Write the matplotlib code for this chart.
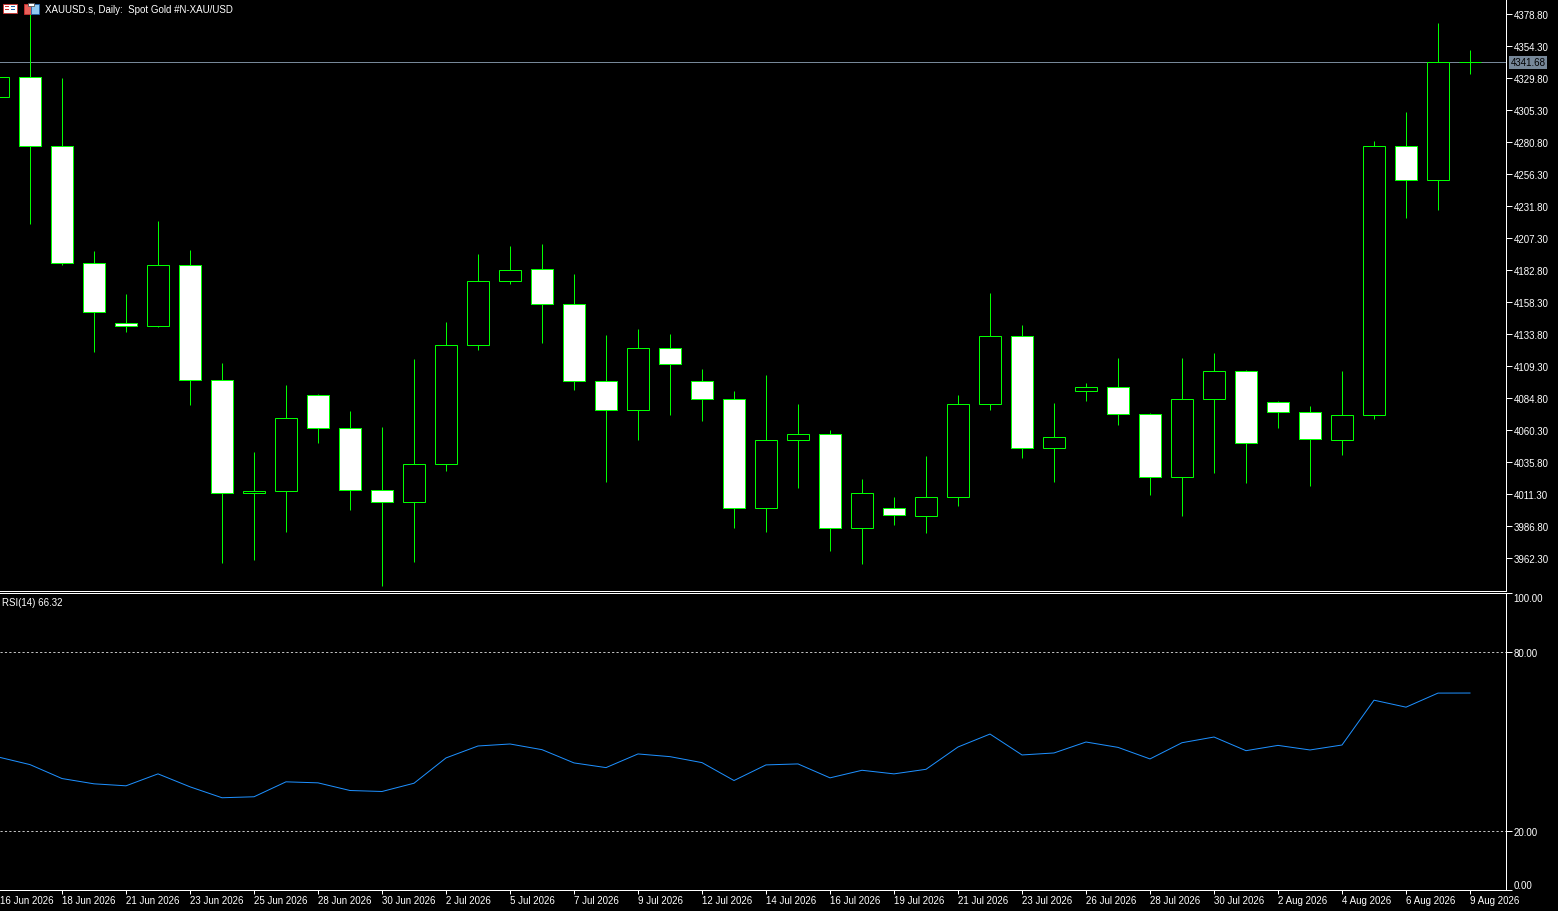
import matplotlib
matplotlib.use("Agg")
import pandas as pd
from matplotlib import pyplot as plt
from matplotlib import transforms
from matplotlib.patches import Rectangle

plt.rcParams["font.family"] = ["Liberation Sans", "DejaVu Sans"]

# XAUUSD daily bars (broker calendar, includes Sunday sessions)
dates = [
    "2026-06-16", "2026-06-17", "2026-06-18", "2026-06-19", "2026-06-21", "2026-06-22",
    "2026-06-23", "2026-06-24", "2026-06-25", "2026-06-26", "2026-06-28", "2026-06-29",
    "2026-06-30", "2026-07-01", "2026-07-02", "2026-07-03", "2026-07-05", "2026-07-06",
    "2026-07-07", "2026-07-08", "2026-07-09", "2026-07-10", "2026-07-12", "2026-07-13",
    "2026-07-14", "2026-07-15", "2026-07-16", "2026-07-17", "2026-07-19", "2026-07-20",
    "2026-07-21", "2026-07-22", "2026-07-23", "2026-07-24", "2026-07-26", "2026-07-27",
    "2026-07-28", "2026-07-29", "2026-07-30", "2026-07-31", "2026-08-02", "2026-08-03",
    "2026-08-04", "2026-08-05", "2026-08-06", "2026-08-07", "2026-08-09",
]
opens = [
    4314.87, 4330.18, 4277.58, 4187.93, 4142.60, 4139.70, 4186.25, 4098.35, 4011.91, 4013.37,
    4086.87, 4061.60, 4014.13, 4004.95, 4034.04, 4125.15, 4174.15, 4183.33, 4156.54, 4097.59,
    4075.38, 4122.85, 4097.59, 4083.80, 4000.35, 4052.41, 4057.01, 3985.04, 4000.35, 3994.23,
    4008.77, 4079.98, 4132.04, 4046.29, 4089.93, 4092.99, 4072.32, 4024.09, 4083.80, 4105.24,
    4081.51, 4073.85, 4052.41, 4071.55, 4277.51, 4251.48, 4341.68,
]
highs = [
    4335.16, 4381.10, 4329.57, 4197.50, 4164.58, 4220.32, 4198.11, 4111.67, 4043.46, 4094.91,
    4087.50, 4074.85, 4062.60, 4114.66, 4142.99, 4195.05, 4201.17, 4202.71, 4179.74, 4133.03,
    4137.63, 4133.80, 4107.00, 4090.16, 4102.41, 4080.21, 4060.30, 4022.78, 4009.00, 4040.39,
    4087.10, 4165.19, 4140.69, 4080.97, 4096.28, 4115.42, 4073.09, 4115.42, 4119.25, 4106.24,
    4082.50, 4078.67, 4105.47, 4281.57, 4303.54, 4371.91, 4351.24,
]
lows = [
    4310.66, 4218.33, 4186.25, 4120.02, 4135.64, 4138.85, 4079.59, 3958.17, 3961.07, 3981.90,
    4050.58, 3999.28, 3941.09, 3959.01, 4029.14, 4121.78, 4172.31, 4127.14, 4091.15, 4020.72,
    4052.87, 4072.01, 4067.42, 3985.50, 3982.44, 4016.12, 3967.89, 3957.94, 3987.80, 3981.67,
    4002.34, 4075.84, 4039.09, 4020.72, 4082.73, 4064.36, 4010.76, 3994.69, 4027.61, 4019.95,
    4062.06, 4017.65, 4041.39, 4068.95, 4222.38, 4228.97, 4332.86,
]
closes = [
    4330.18, 4277.58, 4187.93, 4150.41, 4139.70, 4186.25, 4098.35, 4011.91, 4013.37, 4069.49,
    4061.60, 4014.13, 4004.95, 4034.04, 4125.15, 4174.15, 4182.57, 4156.54, 4097.59, 4075.38,
    4122.85, 4110.60, 4083.80, 4000.35, 4052.41, 4057.01, 3985.04, 4011.84, 3994.99, 4008.77,
    4079.98, 4132.04, 4046.29, 4054.71, 4092.99, 4072.32, 4024.09, 4083.80, 4105.24, 4050.12,
    4073.85, 4053.18, 4071.55, 4277.51, 4251.48, 4341.68, 4341.68,
]
rsi = [
    44.80, 42.22, 37.53, 35.75, 35.08, 39.10, 34.74, 31.06, 31.39, 36.42,
    36.08, 33.50, 33.17, 35.95, 44.47, 48.49, 49.16, 47.25, 42.79, 41.21,
    45.81, 44.90, 42.89, 36.86, 42.12, 42.45, 37.76, 40.31, 39.10, 40.64,
    48.15, 52.51, 45.47, 46.14, 49.83, 48.02, 44.13, 49.59, 51.51, 46.91,
    48.69, 47.15, 48.82, 63.91, 61.56, 66.30, 66.32,
]
price_ticks = [
    3962.30, 3986.80, 4011.30, 4035.80, 4060.30, 4084.80, 4109.30, 4133.80, 4158.30,
    4182.80, 4207.30, 4231.80, 4256.30, 4280.80, 4305.30, 4329.80, 4354.30, 4378.80,
]
rsi_ticks = [0, 20, 80, 100]
bid = 4341.68

W, H = 1558, 912
GREEN = "#00ff00"
LW = 0.72


def px_box(x0, y0, x1, y1):
    return [x0 / W, 1 - y1 / H, (x1 - x0) / W, (y1 - y0) / H]


fig = plt.figure(figsize=(W / 100, H / 100), dpi=100, facecolor="black")
ax = fig.add_axes(px_box(0, 0, 1506, 592), facecolor="black")
ax_rsi = fig.add_axes(px_box(0, 594, 1506, 891), facecolor="black")

x = list(range(len(dates)))

# candles: wicks first, bodies on top (black body for up bars hides wick)
ax.vlines(x, lows, highs, color=GREEN, linewidth=LW, zorder=2)
bottoms = [min(o, c) for o, c in zip(opens, closes)]
heights = [max(abs(c - o), 0.05) for o, c in zip(opens, closes)]
faces = ["black" if c > o else "white" for o, c in zip(opens, closes)]
ax.bar(x, heights, bottom=bottoms, width=0.68, color=faces, edgecolor=GREEN,
       linewidth=LW, zorder=3)

ax.axhline(bid, color="#778899", linewidth=LW, zorder=1)
trans_bid = transforms.blended_transform_factory(ax.transAxes, ax.transData)
ax.annotate(f"{bid:.2f}", xy=(1.0, bid), xycoords=trans_bid, xytext=(3.2, 0),
            textcoords="offset points", ha="left", va="center", fontsize=7, color="black",
            bbox=dict(boxstyle="square,pad=0.12", fc="#778899", ec="none"),
            annotation_clip=False)

ax.set_xlim(2 / 32, 1508 / 32)
ax.set_ylim(3937.03, 4390.28)
ax.yaxis.tick_right()
ax.set_yticks(price_ticks)
ax.set_yticklabels([f"{p:.2f}" for p in price_ticks])
ax.set_xticks([])
for side in ["top", "left"]:
    ax.spines[side].set_visible(False)
for side in ["right", "bottom"]:
    ax.spines[side].set_color("white")
    ax.spines[side].set_linewidth(LW)
ax.tick_params(axis="y", colors="white", length=4, width=LW, pad=1.5, labelsize=7)

# RSI panel
ax_rsi.plot(x, rsi, color="#1e90ff", linewidth=LW)
for lvl in [80, 20]:
    ax_rsi.axhline(lvl, color="#c0c0c0", linewidth=LW, linestyle=(0, (2.2, 2.2)))
ax_rsi.set_xlim(2 / 32, 1508 / 32)
ax_rsi.set_ylim(0.3, 99.9)
ax_rsi.yaxis.tick_right()
ax_rsi.set_yticks(rsi_ticks)
ax_rsi.set_yticklabels([f"{v:.2f}" for v in rsi_ticks])
for lab, v in zip(ax_rsi.get_yticklabels(), rsi_ticks):
    if v == 100:
        lab.set_va("top")
    elif v == 0:
        lab.set_va("bottom")
ax_rsi.spines["left"].set_visible(False)
for side in ["top", "right", "bottom"]:
    ax_rsi.spines[side].set_color("white")
    ax_rsi.spines[side].set_linewidth(LW)
ax_rsi.tick_params(axis="y", colors="white", length=4, width=LW, pad=1.5, labelsize=7)

tick_idx = x[::2]
ax_rsi.set_xticks([i for i in tick_idx if i > 0])
ax_rsi.set_xticklabels([])
ax_rsi.tick_params(axis="x", colors="white", length=3, width=LW)
labels = pd.to_datetime(dates)
for i in tick_idx:
    d = labels[i]
    ax_rsi.annotate(f"{d.day} {d.strftime('%b %Y')}", xy=(max(i, 2 / 32), 0),
                    xycoords=("data", "axes fraction"), xytext=(0, -7.3),
                    textcoords="offset points", ha="left", va="center",
                    fontsize=7, color="white", annotation_clip=False)

# header texts
fig.text(45 / W, 1 - 10 / H, "XAUUSD.s, Daily:  Spot Gold #N-XAU/USD",
         color="white", fontsize=7, va="center")
fig.text(2 / W, 1 - 603 / H, f"RSI(14) {rsi[-1]:.2f}", color="white", fontsize=7,
         va="center")

# small toolbar icons next to the title
icon_parts = [
    (3, 5, 14, 9, "white", "#d0312d"),
    (5, 7, 4, 1, "#d0312d", "none"),
    (5, 10, 4, 1, "#d0312d", "none"),
    (11, 7, 4, 1, "#1f5fa8", "none"),
    (11, 10, 4, 1, "#1f5fa8", "none"),
    (24, 5, 7, 10, "#e8605a", "#d0312d"),
    (31, 5, 8, 10, "#8ec8f0", "#1f5fa8"),
    (28, 4, 6, 3, "white", "#555555"),
]
for px, py, pw, ph, fc, ec in icon_parts:
    fig.patches.append(Rectangle((px / W, 1 - (py + ph) / H), pw / W, ph / H,
                                 transform=fig.transFigure, facecolor=fc,
                                 edgecolor=ec, linewidth=0.6))

plt.savefig("out.png", dpi=100, facecolor="black")
